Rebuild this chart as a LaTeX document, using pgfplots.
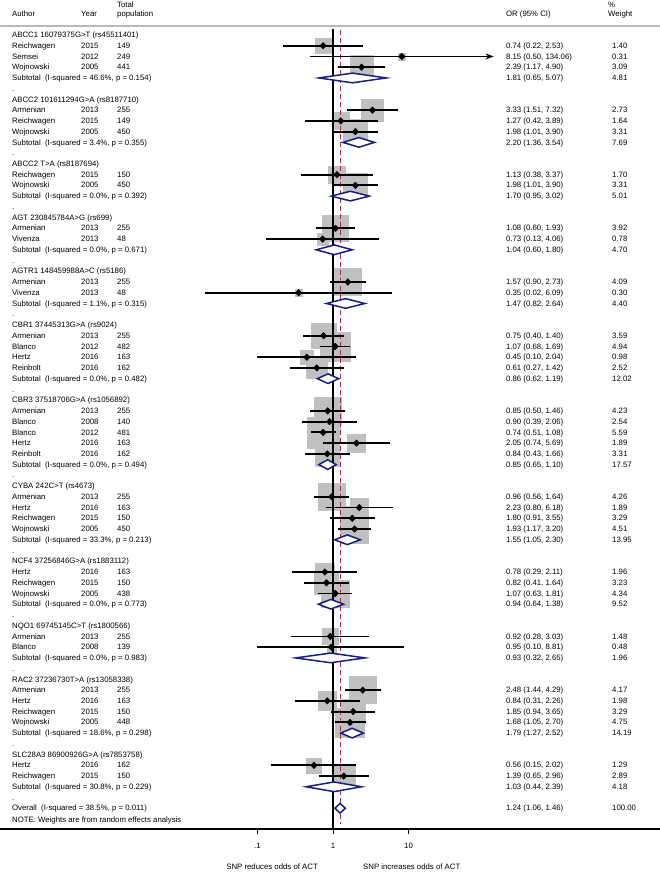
\documentclass[border=0pt]{standalone}
\usepackage{pgfplots}
\pgfplotsset{compat=1.18}
\usepackage{pgfplotstable}
\usepackage{fontspec}
\setmainfont{Liberation Sans}
\usetikzlibrary{arrows.meta}
\definecolor{boxgray}{RGB}{192,192,192}
\definecolor{ovred}{RGB}{170,40,60}
\definecolor{dnavy}{RGB}{25,30,130}

\pgfplotstableread{
row or lo hi w
1 0.74 0.22 2.53 1.40
2 8.15 0.50 134.06 0.31
3 2.39 1.17 4.90 3.09
7 3.33 1.51 7.32 2.73
8 1.27 0.42 3.89 1.64
9 1.98 1.01 3.90 3.31
13 1.13 0.38 3.37 1.70
14 1.98 1.01 3.90 3.31
18 1.08 0.60 1.93 3.92
19 0.73 0.13 4.06 0.78
23 1.57 0.90 2.73 4.09
24 0.35 0.02 6.09 0.30
28 0.75 0.40 1.40 3.59
29 1.07 0.68 1.69 4.94
30 0.45 0.10 2.04 0.98
31 0.61 0.27 1.42 2.52
35 0.85 0.50 1.46 4.23
36 0.90 0.39 2.06 2.54
37 0.74 0.51 1.08 5.59
38 2.05 0.74 5.69 1.89
39 0.84 0.43 1.66 3.31
43 0.96 0.56 1.64 4.26
44 2.23 0.80 6.18 1.89
45 1.80 0.91 3.55 3.29
46 1.93 1.17 3.20 4.51
50 0.78 0.29 2.11 1.96
51 0.82 0.41 1.64 3.23
52 1.07 0.63 1.81 4.34
56 0.92 0.28 3.03 1.48
57 0.95 0.10 8.81 0.48
61 2.48 1.44 4.29 4.17
62 0.84 0.31 2.26 1.98
63 1.85 0.94 3.65 3.29
64 1.68 1.05 2.70 4.75
68 0.56 0.15 2.02 1.29
69 1.39 0.65 2.96 2.89
}\studies

% confidence-interval segments (lower, upper) per study row
\pgfplotstableread{
x y
0.22 -1
2.53 -1
nan nan
1.17 -3
4.90 -3
nan nan
1.51 -7
7.32 -7
nan nan
0.42 -8
3.89 -8
nan nan
1.01 -9
3.90 -9
nan nan
0.38 -13
3.37 -13
nan nan
1.01 -14
3.90 -14
nan nan
0.60 -18
1.93 -18
nan nan
0.13 -19
4.06 -19
nan nan
0.90 -23
2.73 -23
nan nan
0.02 -24
6.09 -24
nan nan
0.40 -28
1.40 -28
nan nan
0.68 -29
1.69 -29
nan nan
0.10 -30
2.04 -30
nan nan
0.27 -31
1.42 -31
nan nan
0.50 -35
1.46 -35
nan nan
0.39 -36
2.06 -36
nan nan
0.51 -37
1.08 -37
nan nan
0.74 -38
5.69 -38
nan nan
0.43 -39
1.66 -39
nan nan
0.56 -43
1.64 -43
nan nan
0.80 -44
6.18 -44
nan nan
0.91 -45
3.55 -45
nan nan
1.17 -46
3.20 -46
nan nan
0.29 -50
2.11 -50
nan nan
0.41 -51
1.64 -51
nan nan
0.63 -52
1.81 -52
nan nan
0.28 -56
3.03 -56
nan nan
0.10 -57
8.81 -57
nan nan
1.44 -61
4.29 -61
nan nan
0.31 -62
2.26 -62
nan nan
0.94 -63
3.65 -63
nan nan
1.05 -64
2.70 -64
nan nan
0.15 -68
2.02 -68
nan nan
0.65 -69
2.96 -69
}\cis

\def\cA{5.6e-5}
\def\cY{4.6e-4}
\def\cP{1.377e-3}
\def\cO{195}
\def\cW{4960}
\newcommand\T[3]{\node[anchor=mid west,inner sep=0pt] at (axis cs:#1,#2) {#3};}
\newcommand\st[8]{\T{\cA}{-#1}{#2}\T{\cY}{-#1}{#3}\T{\cP}{-#1}{#4}\T{\cO}{-#1}{#5 (#6, #7)}\T{\cW}{-#1}{#8}}
\newcommand\sub[7]{\T{\cA}{-#1}{Subtotal\ \ (I-squared = #2\%, p = #3)}\T{\cO}{-#1}{#4 (#5, #6)}\T{\cW}{-#1}{#7}}
\newcommand\diam[6]{\addplot[dnavy, fill=white, line width=1.5pt, line join=miter, mark=none] coordinates {(#2,#5) (#3,#4) (#2,#6) (#1,#4) (#2,#5)} -- cycle;}

\begin{document}
\begin{tikzpicture}[font=\fontsize{7.8}{9}\selectfont]
\begin{axis}[name=ax,
  scale only axis, width=660pt, height=829pt,
  xmode=log, xmin=3.886e-5, xmax=21430,
  ymin=-73.93, ymax=3.259,
  axis x line*=bottom, axis y line=none,
  x axis line style={line width=1.4pt, -},
  xtick={0.1,1,10}, xticklabels={{.1},{1},{10}},
  minor xtick={}, minor tick length=0pt,
  tick align=outside, major tick length=5pt,
  tick style={black, line width=0.9pt},
  xticklabel style={font=\fontsize{7.8}{9}\selectfont, yshift=-6pt},
  clip=false, clip marker paths=true,
]
% boxes (side proportional to sqrt of weight)
\addplot[scatter, only marks, mark=square*, boxgray,
  scatter/use mapped color={draw=boxgray, fill=boxgray},
  visualization depends on={6.6*sqrt(\thisrow{w}) \as \ms},
  scatter/@pre marker code/.append style={/tikz/mark size=\ms}]
  table[x=or, y expr=-\thisrow{row}] {\studies};
% reference lines
\addplot[black, line width=1.1pt, mark=none] coordinates {(1,0.6) (1,-73.93)};
\addplot[ovred, line width=1.1pt, dash pattern=on 5pt off 3pt, mark=none] coordinates {(1.24,0.5) (1.24,-73.5)};
% subtotal diamonds
\diam{0.65}{1.81}{5.07}{-4}{-3.55}{-4.45}
\diam{1.36}{2.20}{3.54}{-10}{-9.55}{-10.45}
\diam{0.95}{1.70}{3.02}{-15}{-14.55}{-15.45}
\diam{0.60}{1.04}{1.80}{-20}{-19.55}{-20.45}
\diam{0.82}{1.47}{2.64}{-25}{-24.55}{-25.45}
\diam{0.62}{0.86}{1.19}{-32}{-31.55}{-32.45}
\diam{0.65}{0.85}{1.10}{-40}{-39.55}{-40.45}
\diam{1.05}{1.55}{2.30}{-47}{-46.55}{-47.45}
\diam{0.64}{0.94}{1.38}{-53}{-52.55}{-53.45}
\diam{0.32}{0.93}{2.65}{-58}{-57.55}{-58.45}
\diam{1.27}{1.79}{2.52}{-65}{-64.55}{-65.45}
\diam{0.44}{1.03}{2.39}{-70}{-69.55}{-70.45}
\diam{1.06}{1.24}{1.46}{-72}{-71.55}{-72.45}
% CIs
\addplot[black, line width=1.8pt, mark=none, unbounded coords=jump] table[x=x, y=y] {\cis};
\addplot[black, line width=1.8pt, mark=none, -{Stealth[length=8pt,width=6pt]}] coordinates {(0.50,-2) (134.06,-2)};
% point estimates
\addplot[only marks, mark=diamond*, mark size=3.3pt, black, mark options={xscale=1.3}] table[x=or, y expr=-\thisrow{row}] {\studies};
% header
\draw[gray!55, line width=1.4pt] (axis cs:3.886e-5,0.84) -- (axis cs:21430,0.84);
\T{\cA}{1.96}{Author}
\T{\cY}{1.96}{Year}
\T{\cP}{2.8}{Total}
\T{\cP}{1.96}{population}
\T{\cO}{1.96}{OR (95\% CI)}
\T{4390}{2.8}{\%}
\T{4390}{1.96}{Weight}
% group titles
\T{\cA}{0}{ABCC1 16079375G>T (rs45511401)}
\T{\cA}{-6}{ABCC2 101611294G>A (rs8187710)}
\T{\cA}{-12}{ABCC2 T>A (rs8187694)}
\T{\cA}{-17}{AGT 230845784A>G (rs699)}
\T{\cA}{-22}{AGTR1 148459988A>C (rs5186)}
\T{\cA}{-27}{CBR1 37445313G>A (rs9024)}
\T{\cA}{-34}{CBR3 37518706G>A (rs1056892)}
\T{\cA}{-42}{CYBA 242C>T (rs4673)}
\T{\cA}{-49}{NCF4 37256846G>A (rs1883112)}
\T{\cA}{-55}{NQO1 69745145C>T (rs1800566)}
\T{\cA}{-60}{RAC2 37236730T>A (rs13058338)}
\T{\cA}{-67}{SLC28A3 86900926G>A (rs7853758)}
% dots
\T{\cA}{-5}{.}\T{\cA}{-11}{.}\T{\cA}{-16}{.}\T{\cA}{-21}{.}\T{\cA}{-26}{.}\T{\cA}{-33}{.}
\T{\cA}{-41}{.}\T{\cA}{-48}{.}\T{\cA}{-54}{.}\T{\cA}{-59}{.}\T{\cA}{-66}{.}\T{\cA}{-71}{.}
% studies
\st{1}{Reichwagen}{2015}{149}{0.74}{0.22}{2.53}{1.40}
\st{2}{Semsei}{2012}{249}{8.15}{0.50}{134.06}{0.31}
\st{3}{Wojnowski}{2005}{441}{2.39}{1.17}{4.90}{3.09}
\sub{4}{46.6}{0.154}{1.81}{0.65}{5.07}{4.81}
\st{7}{Armenian}{2013}{255}{3.33}{1.51}{7.32}{2.73}
\st{8}{Reichwagen}{2015}{149}{1.27}{0.42}{3.89}{1.64}
\st{9}{Wojnowski}{2005}{450}{1.98}{1.01}{3.90}{3.31}
\sub{10}{3.4}{0.355}{2.20}{1.36}{3.54}{7.69}
\st{13}{Reichwagen}{2015}{150}{1.13}{0.38}{3.37}{1.70}
\st{14}{Wojnowski}{2005}{450}{1.98}{1.01}{3.90}{3.31}
\sub{15}{0.0}{0.392}{1.70}{0.95}{3.02}{5.01}
\st{18}{Armenian}{2013}{255}{1.08}{0.60}{1.93}{3.92}
\st{19}{Vivenza}{2013}{48}{0.73}{0.13}{4.06}{0.78}
\sub{20}{0.0}{0.671}{1.04}{0.60}{1.80}{4.70}
\st{23}{Armenian}{2013}{255}{1.57}{0.90}{2.73}{4.09}
\st{24}{Vivenza}{2013}{48}{0.35}{0.02}{6.09}{0.30}
\sub{25}{1.1}{0.315}{1.47}{0.82}{2.64}{4.40}
\st{28}{Armenian}{2013}{255}{0.75}{0.40}{1.40}{3.59}
\st{29}{Blanco}{2012}{482}{1.07}{0.68}{1.69}{4.94}
\st{30}{Hertz}{2016}{163}{0.45}{0.10}{2.04}{0.98}
\st{31}{Reinbolt}{2016}{162}{0.61}{0.27}{1.42}{2.52}
\sub{32}{0.0}{0.482}{0.86}{0.62}{1.19}{12.02}
\st{35}{Armenian}{2013}{255}{0.85}{0.50}{1.46}{4.23}
\st{36}{Blanco}{2008}{140}{0.90}{0.39}{2.06}{2.54}
\st{37}{Blanco}{2012}{481}{0.74}{0.51}{1.08}{5.59}
\st{38}{Hertz}{2016}{163}{2.05}{0.74}{5.69}{1.89}
\st{39}{Reinbolt}{2016}{162}{0.84}{0.43}{1.66}{3.31}
\sub{40}{0.0}{0.494}{0.85}{0.65}{1.10}{17.57}
\st{43}{Armenian}{2013}{255}{0.96}{0.56}{1.64}{4.26}
\st{44}{Hertz}{2016}{163}{2.23}{0.80}{6.18}{1.89}
\st{45}{Reichwagen}{2015}{150}{1.80}{0.91}{3.55}{3.29}
\st{46}{Wojnowski}{2005}{450}{1.93}{1.17}{3.20}{4.51}
\sub{47}{33.3}{0.213}{1.55}{1.05}{2.30}{13.95}
\st{50}{Hertz}{2016}{163}{0.78}{0.29}{2.11}{1.96}
\st{51}{Reichwagen}{2015}{150}{0.82}{0.41}{1.64}{3.23}
\st{52}{Wojnowski}{2005}{438}{1.07}{0.63}{1.81}{4.34}
\sub{53}{0.0}{0.773}{0.94}{0.64}{1.38}{9.52}
\st{56}{Armenian}{2013}{255}{0.92}{0.28}{3.03}{1.48}
\st{57}{Blanco}{2008}{139}{0.95}{0.10}{8.81}{0.48}
\sub{58}{0.0}{0.983}{0.93}{0.32}{2.65}{1.96}
\st{61}{Armenian}{2013}{255}{2.48}{1.44}{4.29}{4.17}
\st{62}{Hertz}{2016}{163}{0.84}{0.31}{2.26}{1.98}
\st{63}{Reichwagen}{2015}{150}{1.85}{0.94}{3.65}{3.29}
\st{64}{Wojnowski}{2005}{448}{1.68}{1.05}{2.70}{4.75}
\sub{65}{18.6}{0.298}{1.79}{1.27}{2.52}{14.19}
\st{68}{Hertz}{2016}{162}{0.56}{0.15}{2.02}{1.29}
\st{69}{Reichwagen}{2015}{150}{1.39}{0.65}{2.96}{2.89}
\sub{70}{30.8}{0.229}{1.03}{0.44}{2.39}{4.18}
\T{\cA}{-72}{Overall\ \ (I-squared = 38.5\%, p = 0.011)}
\T{\cO}{-72}{1.24 (1.06, 1.46)}
\T{\cW}{-72}{100.00}
\T{\cA}{-73.1}{NOTE: Weights are from random effects analysis}
% favours labels
\node[anchor=mid east,inner sep=0pt] at (axis cs:0.633,-77.47) {SNP reduces odds of ACT};
\node[anchor=mid west,inner sep=0pt] at (axis cs:2.496,-77.47) {SNP increases odds of ACT};
\end{axis}
\pgfresetboundingbox
\useasboundingbox (ax.north west) rectangle ([yshift=-45pt]ax.south east);
\end{tikzpicture}
\end{document}
